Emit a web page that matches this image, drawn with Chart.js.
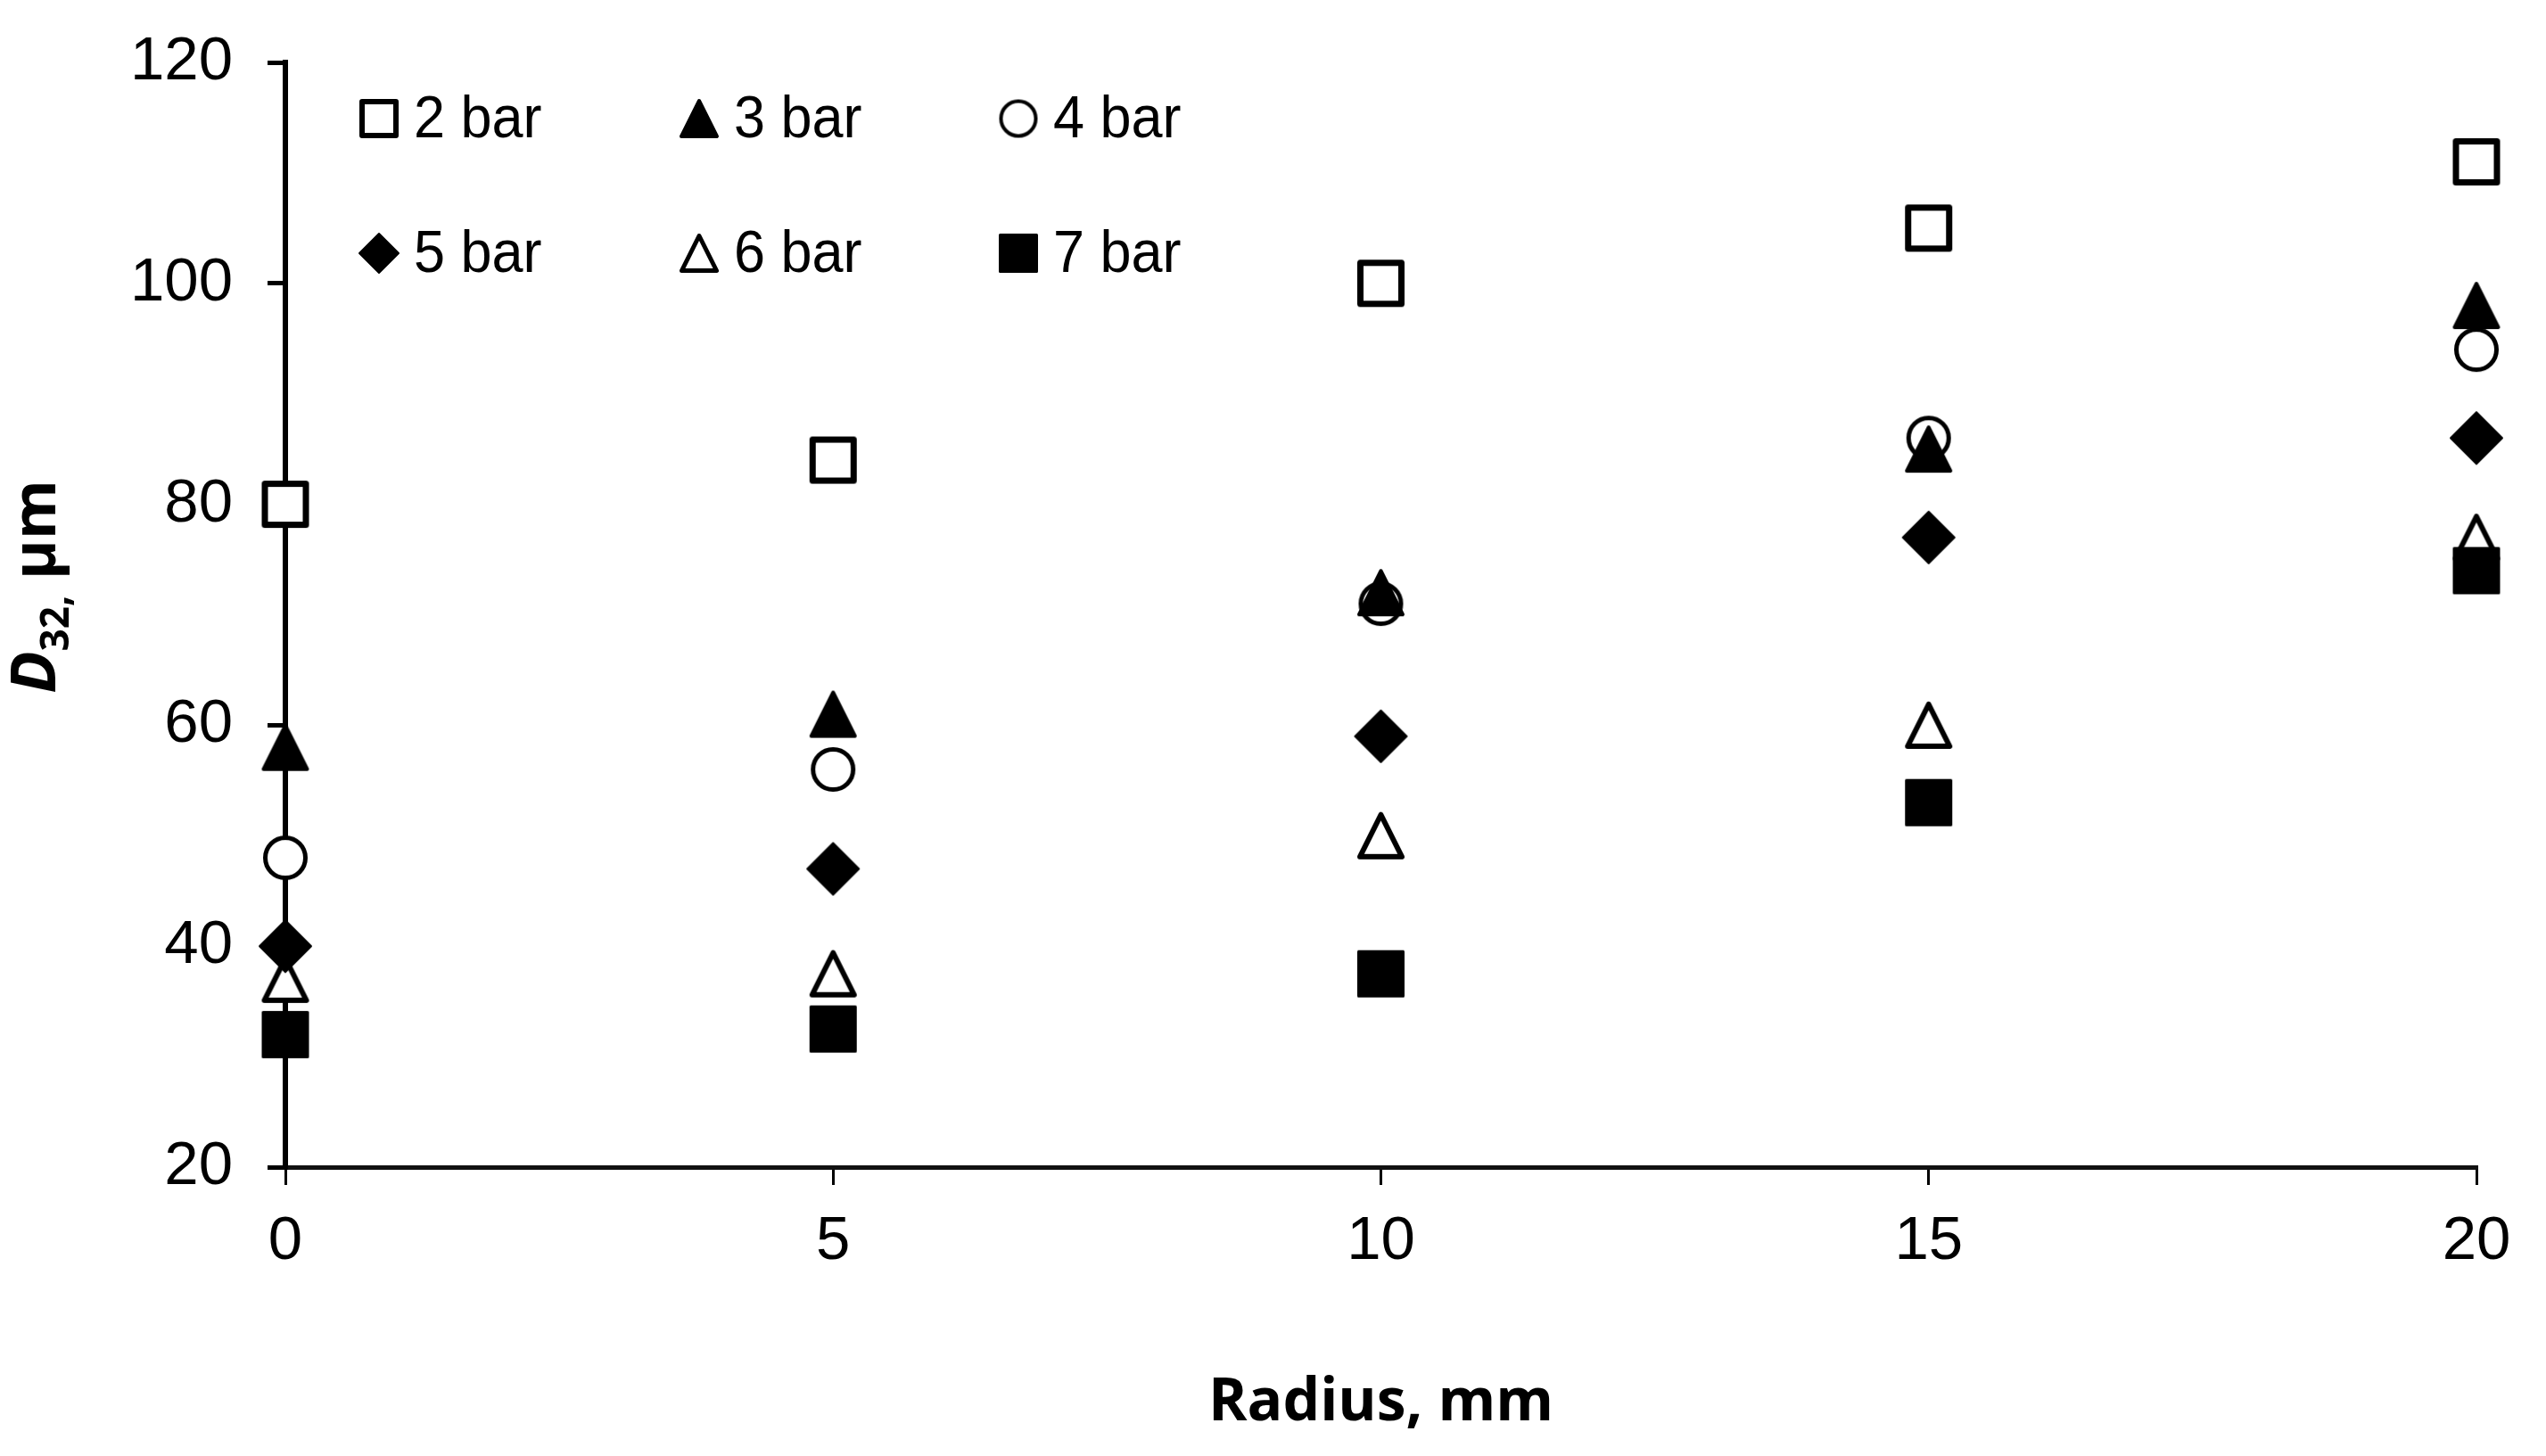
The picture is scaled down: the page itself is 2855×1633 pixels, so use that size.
<!DOCTYPE html>
<html>
<head>
<meta charset="utf-8">
<script src="https://cdn.jsdelivr.net/npm/chart.js@4/dist/chart.umd.min.js"></script>
<style>
  html, body { margin: 0; padding: 0; background: #ffffff; }
  canvas { display: block; }
</style>
</head>
<body>
<canvas id="chart" width="2855" height="1633"></canvas>
<script>
// ---------------- data ----------------
const radius = [0, 5, 10, 15, 20];
const seriesLabels = ['2 bar', '3 bar', '4 bar', '5 bar', '6 bar', '7 bar'];
const bar2 = [80, 84, 100, 105, 111];
const bar3 = [58, 61, 72, 85, 98];
const bar4 = [48, 56, 71, 86, 94];
const bar5 = [40, 47, 59, 77, 86];
const bar6 = [37, 37.5, 50, 60, 77];
const bar7 = [32, 32.5, 37.5, 53, 74];
const xTicks = [0, 5, 10, 15, 20];
const yTicks = [20, 40, 60, 80, 100, 120];
const xTitle = 'Radius, mm';
const yTitleMain = 'D';
const yTitleSub = '32,';
const yTitleRest = ' µm';

// ---------------- marker images ----------------
function makeMarker(shape, size) {
  const pad = 3;
  const c = document.createElement('canvas');
  c.width = size + pad * 2;
  c.height = size + pad * 2;
  const g = c.getContext('2d');
  const o = pad, s = size;
  g.fillStyle = '#000';
  g.strokeStyle = '#000';
  g.lineJoin = 'round';
  if (shape === 'openSquare') {
    const lw = Math.max(4, Math.round(s * 0.13));
    g.fillStyle = '#fff';
    g.fillRect(o, o, s, s);
    g.lineWidth = lw;
    g.strokeRect(o + lw / 2, o + lw / 2, s - lw, s - lw);
  } else if (shape === 'filledSquare') {
    g.lineWidth = 3;
    g.beginPath();
    g.rect(o + 1.5, o + 1.5, s - 3, s - 3);
    g.fill();
    g.stroke();
  } else if (shape === 'filledTriangle') {
    g.lineWidth = 4;
    g.beginPath();
    g.moveTo(o + s / 2, o + 2);
    g.lineTo(o + s - 2, o + s - 2);
    g.lineTo(o + 2, o + s - 2);
    g.closePath();
    g.fill();
    g.stroke();
  } else if (shape === 'openTriangle') {
    const lw = Math.max(4, Math.round(s * 0.12));
    g.lineWidth = lw;
    g.beginPath();
    g.moveTo(o + s / 2, o + lw / 2);
    g.lineTo(o + s - lw / 2, o + s - lw / 2);
    g.lineTo(o + lw / 2, o + s - lw / 2);
    g.closePath();
    g.fillStyle = '#fff';
    g.fill();
    g.stroke();
  } else if (shape === 'openCircle') {
    const lw = Math.max(3, Math.round(s * 0.1));
    g.lineWidth = lw;
    g.beginPath();
    g.arc(o + s / 2, o + s / 2, (s - lw) / 2, 0, Math.PI * 2);
    g.fillStyle = '#fff';
    g.fill();
    g.stroke();
  } else if (shape === 'diamond') {
    g.lineWidth = 2;
    g.beginPath();
    g.moveTo(o + s / 2, o + 1);
    g.lineTo(o + s - 1, o + s / 2);
    g.lineTo(o + s / 2, o + s - 1);
    g.lineTo(o + 1, o + s / 2);
    g.closePath();
    g.fill();
    g.stroke();
  }
  return c;
}

const shapes = ['openSquare', 'filledTriangle', 'openCircle', 'diamond', 'openTriangle', 'filledSquare'];
const dataSizes = [53, 53, 50, 60, 53, 53];
const legendSizes = [44, 44, 43, 46, 44, 44];
const drawOrder = [2, 1, 2, 1, 3, 1];
const seriesValues = [bar2, bar3, bar4, bar5, bar6, bar7];

const dataMarkers = shapes.map((s, i) => makeMarker(s, dataSizes[i]));
const legendMarkers = shapes.map((s, i) => makeMarker(s, legendSizes[i]));

const datasets = seriesLabels.map((label, i) => ({
  label: label,
  data: radius.map((x, j) => ({ x: x, y: seriesValues[i][j] })),
  pointStyle: dataMarkers[i],
  pointRadius: 26,
  pointHoverRadius: 26,
  showLine: false,
  clip: false,
  order: drawOrder[i]
}));

// ---------------- plugins ----------------
const legendPlugin = {
  id: 'gridLegend',
  afterDraw(chart) {
    const ctx = chart.ctx;
    const colX = [425, 784, 1142];
    const rowY = [133, 284];
    ctx.save();
    ctx.fillStyle = '#000';
    ctx.font = '67px "Liberation Sans", Arial, sans-serif';
    ctx.textBaseline = 'middle';
    ctx.textAlign = 'left';
    chart.data.datasets.forEach((ds, i) => {
      const cx = colX[i % 3];
      const cy = rowY[Math.floor(i / 3)];
      const m = legendMarkers[i];
      ctx.drawImage(m, cx - m.width / 2, cy - m.height / 2);
      ctx.save();
      ctx.translate(cx + 39, cy + 3);
      ctx.scale(0.94, 1);
      ctx.fillText(ds.label, 0, 0);
      ctx.restore();
    });
    ctx.restore();
  }
};

const yTitlePlugin = {
  id: 'yTitle',
  afterDraw(chart) {
    const ctx = chart.ctx;
    ctx.save();
    ctx.fillStyle = '#000';
    ctx.textBaseline = 'alphabetic';
    ctx.textAlign = 'left';
    const fIt = 'italic bold 70px "Open Sans", sans-serif';
    const fSub = 'bold 44px "Open Sans", sans-serif';
    const fMain = 'bold 68px "Open Sans", sans-serif';
    ctx.font = fIt; const w1 = ctx.measureText(yTitleMain).width;
    ctx.font = fSub; const w2 = ctx.measureText(yTitleSub).width;
    ctx.font = fMain; const w3 = ctx.measureText(yTitleRest).width;
    const total = w1 + w2 + w3;
    ctx.translate(62, 658);
    ctx.rotate(-Math.PI / 2);
    let x = -total / 2;
    ctx.font = fIt; ctx.fillText(yTitleMain, x, 0); x += w1;
    ctx.font = fSub; ctx.fillText(yTitleSub, x, 15); x += w2;
    ctx.font = fMain; ctx.fillText(yTitleRest, x, 0);
    ctx.restore();
  }
};

// ---------------- chart ----------------
const tickFont = { family: '"Liberation Sans", Arial, sans-serif', size: 69 };

new Chart(document.getElementById('chart'), {
  type: 'scatter',
  data: { datasets: datasets },
  options: {
    responsive: false,
    devicePixelRatio: 1,
    animation: false,
    events: [],
    layout: { padding: { left: 0, top: 70, right: 78, bottom: 0 } },
    plugins: {
      legend: { display: false },
      tooltip: { enabled: false },
      title: { display: false }
    },
    scales: {
      x: {
        type: 'linear',
        min: 0,
        max: 20,
        afterBuildTicks: (s) => { s.ticks = xTicks.map(v => ({ value: v })); },
        afterFit: (s) => { s.height = 324; },
        grid: {
          drawOnChartArea: false,
          drawTicks: true,
          tickLength: 20,
          lineWidth: 3,
          tickWidth: 3,
          color: '#000',
          tickColor: '#000'
        },
        border: { display: true, color: '#111', width: 5 },
        ticks: {
          color: '#000',
          font: tickFont,
          padding: 23,
          maxRotation: 0,
          autoSkip: false
        },
        title: {
          display: true,
          text: xTitle,
          color: '#000',
          font: { family: '"Open Sans", sans-serif', size: 66, weight: 'bold' },
          padding: { top: 0, bottom: 19 }
        }
      },
      y: {
        type: 'linear',
        min: 20,
        max: 120,
        afterBuildTicks: (s) => { s.ticks = yTicks.map(v => ({ value: v })); },
        afterFit: (s) => { s.width = 320; s.paddingTop = 40; s.paddingBottom = 40; },
        grid: {
          drawOnChartArea: false,
          drawTicks: true,
          tickLength: 20,
          lineWidth: 5,
          tickWidth: 5,
          color: '#000',
          tickColor: '#000'
        },
        border: { display: true, color: '#000', width: 6 },
        ticks: {
          color: '#000',
          font: tickFont,
          padding: 39,
          autoSkip: false
        }
      }
    }
  },
  plugins: [legendPlugin, yTitlePlugin]
});
</script>
</body>
</html>
